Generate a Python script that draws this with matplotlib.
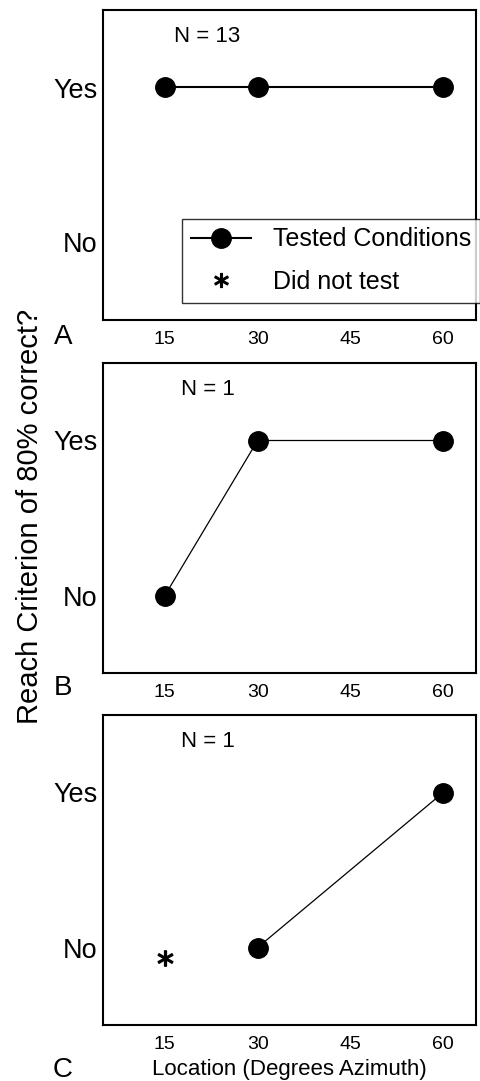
import matplotlib
matplotlib.use("Agg")
import matplotlib.pyplot as plt

plt.rcParams['font.family'] = ['Liberation Sans', 'DejaVu Sans']

# x positions (degrees azimuth)
xticks = [15, 30, 45, 60]
ytick_labels = ['No', 'Yes']

# panel A
a_x = [15, 30, 60]
a_y = [1, 1, 1]
# panel B
b_x = [15, 30, 60]
b_y = [0, 1, 1]
# panel C
c_x = [30, 60]
c_y = [0, 1]
c_untested_x = [15]
c_untested_y = [-0.07]

n_labels = ['N = 13', 'N = 1', 'N = 1']
panel_letters = ['A', 'B', 'C']

fig = plt.figure(figsize=(4.81, 10.81), dpi=100)

W, H = 481.0, 1081.0
left = 103 / W
width = 373 / W
tops = [10, 363, 715]
ax_h = 310

axes = []
for t in tops:
    ax = fig.add_axes([left, (H - t - ax_h) / H, width, ax_h / H])
    axes.append(ax)

line_w = [1.5, 0.9, 0.9]
series = [(a_x, a_y), (b_x, b_y), (c_x, c_y)]

for i, ax in enumerate(axes):
    sx, sy = series[i]
    ax.plot(sx, sy, color='black', lw=line_w[i], marker='o',
            markersize=14, markerfacecolor='black')
    ax.set_xlim(5, 65.3)
    ax.set_ylim(-0.5, 1.5)
    ax.set_xticks(xticks)
    ax.set_xticklabels([str(v) for v in xticks], fontsize=14)
    ax.set_yticks([0, 1])
    ax.set_yticklabels(ytick_labels, fontsize=19.5)
    ax.tick_params(axis='x', length=0, pad=8)
    ax.tick_params(axis='y', length=0, pad=4)
    for s in ax.spines.values():
        s.set_linewidth(1.5)
    ax.text(0.28, 0.913, n_labels[i], transform=ax.transAxes,
            ha='center', va='center', fontsize=16)

# did not test marker in panel C
axes[2].plot(c_untested_x, c_untested_y, linestyle='none', marker='$*$',
             markersize=11, color='black')

# legend in panel A
h_tested, = axes[0].plot([], [], color='black', lw=1.5, marker='o', markersize=14,
                         label='Tested Conditions')
h_untested, = axes[0].plot([], [], linestyle='none', marker='$*$', markersize=10,
                           color='black', label='Did not test')
leg = axes[0].legend(handles=[h_tested, h_untested], loc='lower left',
                     bbox_to_anchor=(0.212, 0.055), fontsize=18, frameon=True,
                     fancybox=False, handlelength=2.4, borderpad=0.35,
                     labelspacing=0.75, handletextpad=0.9, borderaxespad=0)
leg.get_frame().set_edgecolor('black')
leg.get_frame().set_linewidth(1.0)
leg.set_clip_on(False)

axes[2].set_xlabel('Location (Degrees Azimuth)', fontsize=16, labelpad=4)

fig.text(30 / W, 1 - 516 / H, 'Reach Criterion of 80% correct?', rotation=90,
         ha='center', va='center', fontsize=21)

letter_y = [337, 688, 1070]
for lt, ly in zip(panel_letters, letter_y):
    fig.text(63 / W, 1 - ly / H, lt, ha='center', va='center', fontsize=20)

fig.savefig('out.png', dpi=100)
